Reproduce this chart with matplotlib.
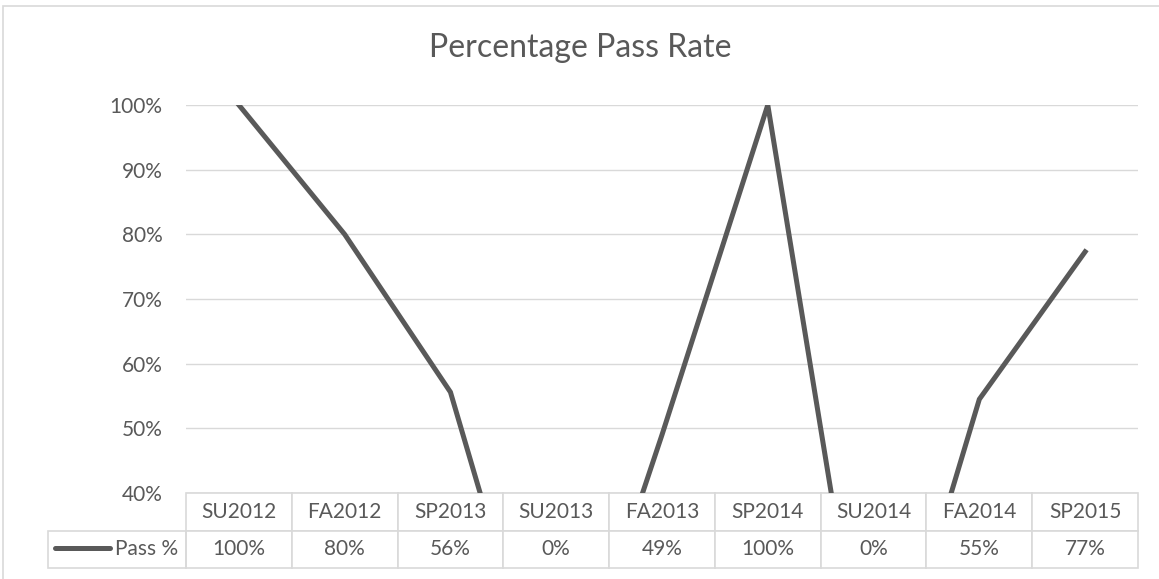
import numpy as np
import matplotlib.pyplot as plt
from matplotlib.patches import Rectangle
from matplotlib.ticker import PercentFormatter

terms = ["SU2012", "FA2012", "SP2013", "SU2013", "FA2013",
         "SP2014", "SU2014", "FA2014", "SP2015"]
pass_rate = [1.00, 0.80, 0.556, 0.0, 0.49, 1.00, 0.0, 0.545, 0.773]
series_name = "Pass %"
yticks = [0.4, 0.5, 0.6, 0.7, 0.8, 0.9, 1.0]

grey = "#595959"
light = "#d9d9d9"
plt.rcParams['font.family'] = ['Lato', 'DejaVu Sans']

fig = plt.figure(figsize=(11.59, 5.79), dpi=100)
W, H = 1159, 579

# outer chart border (only left and top edges visible)
fig.patches.append(Rectangle((3 / W, -0.05), 1.2, 1 - 6 / H + 0.05,
                             transform=fig.transFigure, fill=False,
                             edgecolor=light, lw=1.2))

fig.text(580 / W, 1 - 57 / H, "Percentage Pass Rate", ha='center',
         va='baseline', fontsize=23, color=grey)

ax = fig.add_axes([186 / W, 1 - 493 / H, (1138 - 186) / W, (493 - 105) / H])
x = np.arange(len(terms))
ax.plot(x, pass_rate, color=grey, lw=3.6, solid_joinstyle='miter')
ax.set_xlim(-0.5, len(terms) - 0.5)
ax.set_ylim(0.4, 1.0)
ax.set_yticks(yticks)
ax.yaxis.set_major_formatter(PercentFormatter(1.0, decimals=0))
ax.tick_params(axis='y', length=0, pad=17, labelsize=15, labelcolor=grey)
ax.set_xticks([])
ax.grid(axis='y', color=light, lw=1)
ax.set_axisbelow(True)
for s in ax.spines.values():
    s.set_visible(False)

# data table below the plot
pw, ph = 1138 - 186, 493 - 105
cells = [["{:.0%}".format(v) for v in pass_rate]]
tab_h = (568 - 493) / ph
tbl = ax.table(cellText=cells, colLabels=terms,
               colWidths=[1 / len(terms)] * len(terms),
               cellLoc='center', bbox=[0, -tab_h, 1, tab_h])
tbl.auto_set_font_size(False)
tbl.set_fontsize(15)
for (r, c), cell in tbl.get_celld().items():
    cell.set_edgecolor(light)
    cell.set_linewidth(1.2)
    cell.get_text().set_color(grey)

# legend key cell to the left of the value row
ax.add_patch(Rectangle(((48 - 186) / pw, -tab_h), (186 - 48) / pw, tab_h / 2,
                       transform=ax.transAxes, fill=False, edgecolor=light,
                       lw=1.2, clip_on=False))
ax.text((115 - 186) / pw, -(549 - 493) / ph, series_name, transform=ax.transAxes,
        ha='left', va='center', fontsize=15, color=grey)
ax.plot([(55 - 186) / pw, (110 - 186) / pw], [-(548 - 493) / ph] * 2,
        transform=ax.transAxes, color=grey, lw=3.6, solid_capstyle='round',
        clip_on=False)

fig.savefig("out.png", dpi=100)
